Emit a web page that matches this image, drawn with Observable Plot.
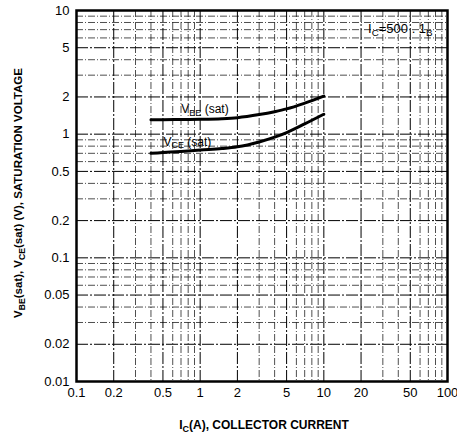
<!DOCTYPE html>
<html>
<head>
<meta charset="utf-8">
<script src="https://cdn.jsdelivr.net/npm/d3@7"></script>
<script src="https://cdn.jsdelivr.net/npm/@observablehq/plot@0.6"></script>
<style>
  html, body { margin: 0; padding: 0; background: #fff; }
  svg { display: block; }
</style>
</head>
<body>
<div id="chart"></div>
<script>
// Collector current Ic (A)
const ic = [0.4, 0.5, 0.7, 1, 1.5, 2, 3, 4, 5, 7, 10];
// VBE(sat) (V)
const vbe = [1.31, 1.31, 1.315, 1.32, 1.335, 1.36, 1.44, 1.52, 1.60, 1.78, 2.03];
// VCE(sat) (V)
const vce = [0.70, 0.71, 0.725, 0.745, 0.765, 0.79, 0.865, 0.945, 1.03, 1.21, 1.45];

const xTicks = [0.1, 0.2, 0.5, 1, 2, 5, 10, 20, 50, 100];
const xTickLabels = ["0.1", "0.2", "0.5", "1", "2", "5", "10", "20", "50", "100"];
const yTicks = [0.01, 0.02, 0.05, 0.1, 0.2, 0.5, 1, 2, 5, 10];
const yTickLabels = ["0.01", "0.02", "0.05", "0.1", "0.2", "0.5", "1", "2", "5", "10"];

const seriesNames = ["VBE(sat)", "VCE(sat)"];

const rows = [];
ic.forEach((x, i) => {
  rows.push({series: seriesNames[0], ic: x, v: vbe[i]});
  rows.push({series: seriesNames[1], ic: x, v: vce[i]});
});

const xGrid = d3.scaleLog().domain([0.1, 100]).ticks();
const yGrid = d3.scaleLog().domain([0.01, 10]).ticks();
const isMajor = d => { const m = d / Math.pow(10, Math.floor(Math.log10(d) + 1e-9)); return Math.abs(m - 1) < 1e-6 || Math.abs(m - 2) < 1e-6 || Math.abs(m - 5) < 1e-6; };

const font = "'Liberation Sans', Arial, Helvetica, sans-serif";

const plot = Plot.plot({
  width: 457,
  height: 436,
  marginLeft: 76,
  marginTop: 10,
  marginRight: 10,
  marginBottom: 55,
  style: {fontFamily: font, fontSize: "13px", background: "#fff", color: "#000"},
  x: {type: "log", domain: [0.1, 100], axis: null},
  y: {type: "log", domain: [0.01, 10], axis: null},
  marks: [
    Plot.ruleX(xGrid.filter(d => !isMajor(d)), {stroke: "#222", strokeWidth: 0.8, strokeDasharray: "7,2,1,2"}),
    Plot.ruleY(yGrid.filter(d => !isMajor(d)), {stroke: "#222", strokeWidth: 0.8, strokeDasharray: "7,2,1,2"}),
    Plot.ruleX(xGrid.filter(isMajor), {stroke: "#000", strokeWidth: 1, strokeDasharray: "12,2,2,2"}),
    Plot.ruleY(yGrid.filter(isMajor), {stroke: "#000", strokeWidth: 1, strokeDasharray: "12,2,2,2"}),
    Plot.line(rows, {x: "ic", y: "v", z: "series", stroke: "#000", strokeWidth: 3, curve: "monotone-x"}),
    Plot.frame({stroke: "#000", strokeWidth: 2.5}),
    Plot.text(xTicks, {x: d => d, text: (d, i) => xTickLabels[i], frameAnchor: "bottom", lineAnchor: "top", dy: 6, fontSize: 13, fill: "#000"}),
    Plot.text(yTicks, {y: d => d, text: (d, i) => yTickLabels[i], frameAnchor: "left", textAnchor: "end", dx: -7, fontSize: 13, fill: "#000"})
  ]
});

document.getElementById("chart").appendChild(plot);

const svg = d3.select(plot);
const sx = plot.scale("x"), sy = plot.scale("y");

function subText(g, x, y, parts, opts = {}) {
  const size = opts.size || 12;
  const t = g.append("text")
    .attr("x", x).attr("y", y)
    .attr("font-family", font)
    .attr("font-size", size)
    .attr("font-weight", opts.weight || "normal")
    .attr("fill", "#000")
    .attr("text-anchor", opts.anchor || "start");
  if (opts.rotate) t.attr("transform", `rotate(${opts.rotate},${x},${y})`);
  parts.forEach(p => {
    const s = t.append("tspan").text(p.t);
    if (p.sub) s.attr("font-size", size * 0.75).attr("dy", size * 0.22);
    else if (p.after) s.attr("dy", -size * 0.22);
  });
  return t;
}

const g = svg.append("g");
// Curve labels
subText(g, sx.apply(0.71), sy.apply(1.47), [{t: "V"}, {t: "BE", sub: true}, {t: " (sat)", after: true}], {size: 12});
subText(g, sx.apply(0.51), sy.apply(0.8), [{t: "V"}, {t: "CE", sub: true}, {t: " (sat)", after: true}], {size: 12});
// Condition note
subText(g, sx.apply(23), sy.apply(6.5), [{t: "I"}, {t: "C", sub: true}, {t: "=500 . 1", after: true}, {t: "B", sub: true}], {size: 13});
// Axis titles
subText(g, 264, 429, [{t: "I"}, {t: "C", sub: true}, {t: "(A), COLLECTOR CURRENT", after: true}], {size: 12, weight: "bold", anchor: "middle"});
subText(g, 22, 193, [{t: "V"}, {t: "BE", sub: true}, {t: "(sat), V", after: true}, {t: "CE", sub: true}, {t: "(sat) (V), SATURATION VOLTAGE", after: true}], {size: 11.5, weight: "bold", anchor: "middle", rotate: -90});
</script>
</body>
</html>
